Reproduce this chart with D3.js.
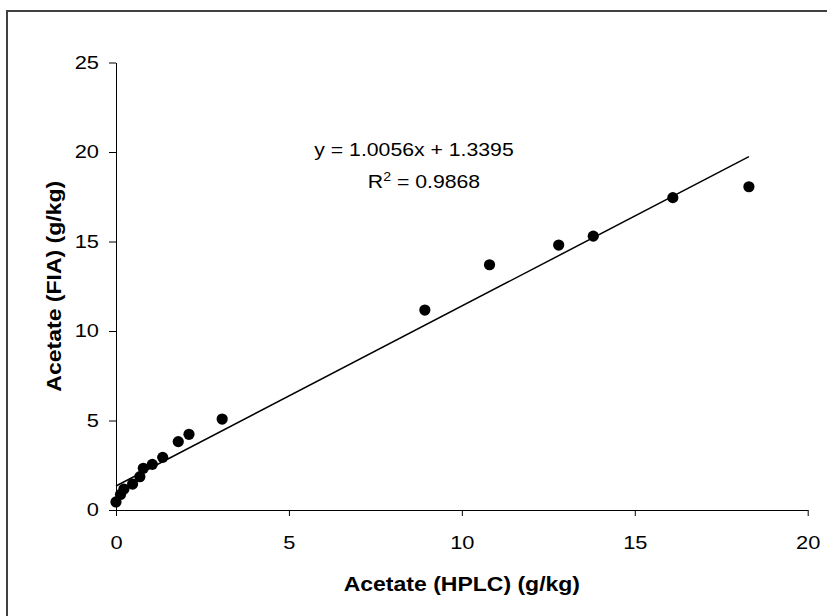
<!DOCTYPE html>
<html>
<head>
<meta charset="utf-8">
<script src="https://cdn.jsdelivr.net/npm/d3@7"></script>
<style>
  body { margin: 0; background: #fff; }
  svg { display: block; font-family: Arial, "Liberation Sans", sans-serif; }
</style>
</head>
<body>
<svg id="chart" width="827" height="616"></svg>
<script>
// acetate measured by HPLC vs FIA (g/kg)
const hplc = [0, 0.13, 0.23, 0.48, 0.69, 0.79, 1.05, 1.35, 1.8, 2.11, 3.07, 8.93, 10.8, 12.8, 13.8, 16.1, 18.3];
const fia = [0.45, 0.87, 1.17, 1.45, 1.86, 2.33, 2.55, 2.94, 3.82, 4.23, 5.08, 11.17, 13.7, 14.8, 15.3, 17.45, 18.06];
const slope = 1.0056;
const intercept = 1.3395;
const rSquared = 0.9868;
const xTicks = [0, 5, 10, 15, 20];
const yTicks = [0, 5, 10, 15, 20, 25];

// the original text is a bit wider than Arial, stretch it horizontally
const stretch = 1.18;

const svg = d3.select("#chart");

// frame around chart area (only left/top edges are in view)
svg.append("rect")
  .attr("x", 7)
  .attr("y", 11)
  .attr("width", 900)
  .attr("height", 700)
  .attr("fill", "none")
  .attr("stroke", "#404040")
  .attr("stroke-width", 2);

const x = d3.scaleLinear().domain([0, 20]).range([116, 807.7]);
const y = d3.scaleLinear().domain([0, 25]).range([510, 62.5]);

const xAxis = svg.append("g")
  .attr("transform", `translate(0,${y(0)})`)
  .call(d3.axisBottom(x).tickValues(xTicks).tickSize(6).tickSizeOuter(0).tickPadding(20));

const yAxis = svg.append("g")
  .attr("transform", `translate(${x(0)},0)`)
  .call(d3.axisLeft(y).tickValues(yTicks).tickSize(7).tickSizeOuter(0).tickPadding(10));

[xAxis, yAxis].forEach((g) => {
  g.selectAll("path, line").attr("stroke", "#000").attr("stroke-width", 1);
  g.selectAll("text")
    .attr("fill", "#000")
    .style("font-size", "18.5px")
    .style("font-family", "Arial, 'Liberation Sans', sans-serif")
    .each(function () {
      const t = d3.select(this);
      const tx = +t.attr("x") || 0;
      const ty = +t.attr("y") || 0;
      t.attr("x", 0).attr("y", 0)
        .attr("transform", `translate(${tx},${ty}) scale(${stretch},1)`);
    });
});

// linear trendline over the data range
const lineX = [0, d3.max(hplc)];
svg.append("line")
  .attr("x1", x(lineX[0]))
  .attr("y1", y(slope * lineX[0] + intercept))
  .attr("x2", x(lineX[1]))
  .attr("y2", y(slope * lineX[1] + intercept))
  .attr("stroke", "#000")
  .attr("stroke-width", 1.5);

svg.selectAll("circle.pt")
  .data(hplc)
  .enter()
  .append("circle")
  .attr("class", "pt")
  .attr("cx", (d) => x(d))
  .attr("cy", (d, i) => y(fia[i]))
  .attr("r", 5.6)
  .attr("fill", "#000");

// equation labels
svg.append("text")
  .attr("transform", `translate(414,156) scale(${stretch},1)`)
  .attr("text-anchor", "middle")
  .style("font-size", "18px")
  .text(`y = ${slope}x + ${intercept}`);

const r2 = svg.append("text")
  .attr("transform", `translate(424,188) scale(${stretch},1)`)
  .attr("text-anchor", "middle")
  .style("font-size", "18px");
r2.append("tspan").text("R");
r2.append("tspan").attr("dy", -7).style("font-size", "12px").text("2");
r2.append("tspan").attr("dy", 7).text(` = ${rSquared}`);

// axis titles
svg.append("text")
  .attr("transform", `translate(${(x(0) + x(20)) / 2},591) scale(${stretch},1)`)
  .attr("text-anchor", "middle")
  .style("font-size", "19.5px")
  .style("font-weight", "bold")
  .text("Acetate (HPLC) (g/kg)");

svg.append("text")
  .attr("transform", `translate(61,${(y(0) + y(25)) / 2}) rotate(-90) scale(${stretch},1)`)
  .attr("text-anchor", "middle")
  .style("font-size", "19.5px")
  .style("font-weight", "bold")
  .text("Acetate (FIA) (g/kg)");
</script>
</body>
</html>
